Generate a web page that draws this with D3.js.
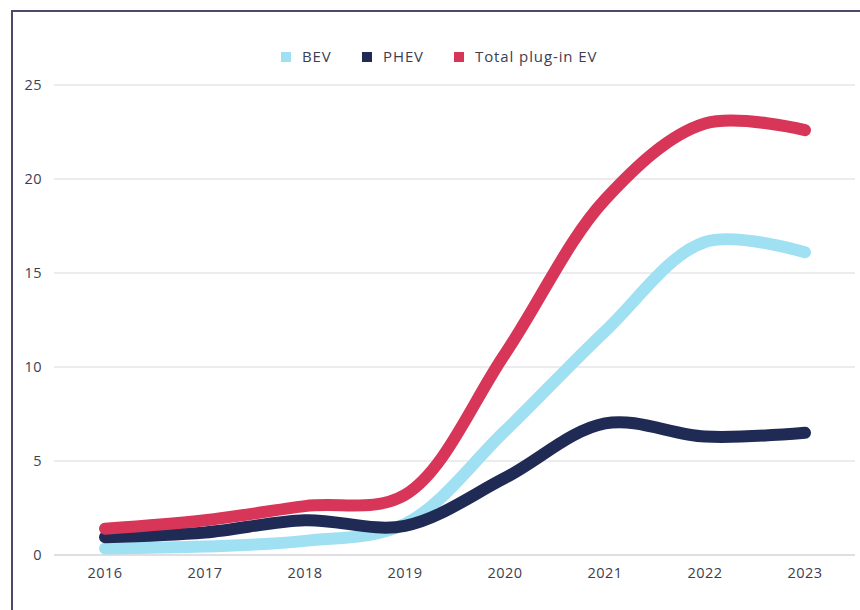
<!DOCTYPE html>
<html>
<head>
<meta charset="utf-8">
<script src="https://cdn.jsdelivr.net/npm/d3@7"></script>
<style>
  body { margin: 0; background: #fff; }
  text { font-family: "Open Sans", sans-serif; fill: #3d3d52; }
</style>
</head>
<body>
<script>
const years = ["2016", "2017", "2018", "2019", "2020", "2021", "2022", "2023"];
const bev = [0.35, 0.45, 0.75, 1.65, 6.6, 11.9, 16.65, 16.1];
const phev = [0.95, 1.2, 1.85, 1.55, 4.1, 7.0, 6.3, 6.5];
const total = [1.4, 1.85, 2.6, 3.2, 10.7, 18.9, 22.95, 22.6];
const yTicks = [0, 5, 10, 15, 20, 25];

const series = [
  { name: "BEV", color: "#a0e0f3", values: bev },
  { name: "PHEV", color: "#1f2b55", values: phev },
  { name: "Total plug-in EV", color: "#d83658", values: total },
];

const width = 860, height = 610;

const svg = d3.select("body").append("svg")
  .attr("width", width)
  .attr("height", height);

// frame (only top + left visible)
svg.append("path")
  .attr("d", "M12,610V11H860")
  .attr("fill", "none")
  .attr("stroke", "#4b4a68")
  .attr("stroke-width", 2);

const x = d3.scalePoint().domain(years).range([105, 805]);
const y = d3.scaleLinear().domain([0, 25]).range([555, 85]);

// gridlines
svg.selectAll("line.grid")
  .data(yTicks)
  .enter()
  .append("line")
  .attr("class", "grid")
  .attr("x1", 54)
  .attr("x2", 855)
  .attr("y1", d => y(d))
  .attr("y2", d => y(d))
  .attr("stroke", d => d === 0 ? "#d4d4d8" : "#e6e6e8")
  .attr("stroke-width", 1.5);

// y labels
svg.selectAll("text.ylab")
  .data(yTicks)
  .enter()
  .append("text")
  .attr("class", "ylab")
  .attr("x", 42)
  .attr("y", d => y(d))
  .attr("dy", "0.35em")
  .attr("text-anchor", "end")
  .attr("font-size", 14.5)
  .attr("letter-spacing", 0.4)
  .text(d => d);

// x labels
svg.selectAll("text.xlab")
  .data(years)
  .enter()
  .append("text")
  .attr("class", "xlab")
  .attr("x", d => x(d))
  .attr("y", 573)
  .attr("dy", "0.35em")
  .attr("text-anchor", "middle")
  .attr("font-size", 14.5)
  .attr("letter-spacing", 0.4)
  .text(d => d);

const line = d3.line()
  .x((d, i) => x(years[i]))
  .y(d => y(d))
  .curve(d3.curveCatmullRom.alpha(0.5));

svg.selectAll("path.series")
  .data(series)
  .enter()
  .append("path")
  .attr("class", "series")
  .attr("d", d => line(d.values))
  .attr("fill", "none")
  .attr("stroke", d => d.color)
  .attr("stroke-width", 12)
  .attr("stroke-linecap", "round")
  .attr("stroke-linejoin", "round");

// legend
const legendX = [281, 362, 454];
const legend = svg.selectAll("g.legend")
  .data(series)
  .enter()
  .append("g")
  .attr("class", "legend")
  .attr("transform", (d, i) => `translate(${legendX[i]},57)`);

legend.append("rect")
  .attr("x", 0)
  .attr("y", -5)
  .attr("width", 10)
  .attr("height", 10)
  .attr("fill", d => d.color);

legend.append("text")
  .attr("x", 21)
  .attr("dy", "0.35em")
  .attr("font-size", 15)
  .attr("letter-spacing", 0.9)
  .text(d => d.name);
</script>
</body>
</html>
